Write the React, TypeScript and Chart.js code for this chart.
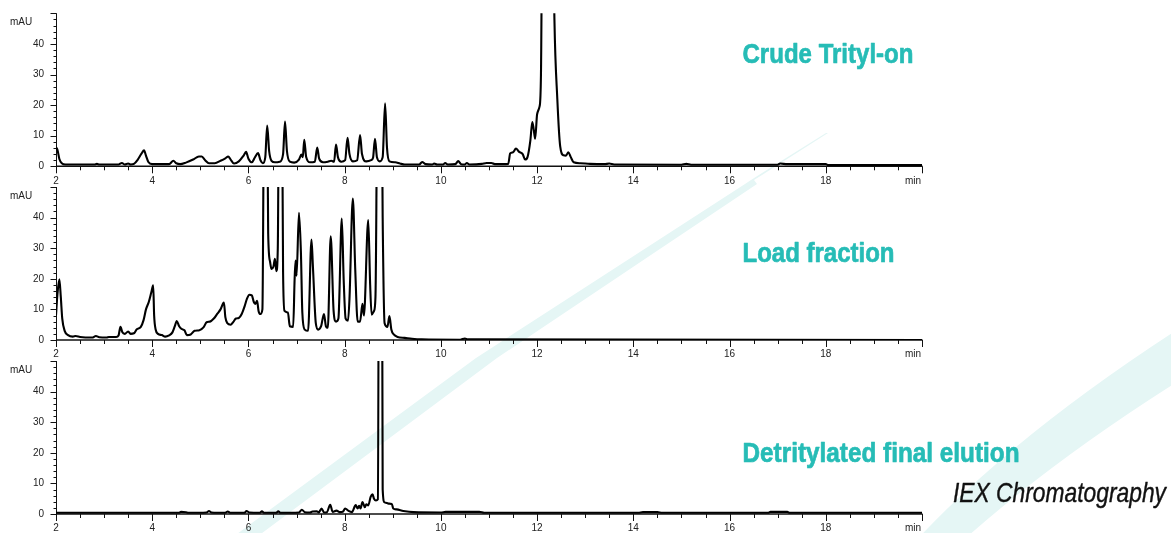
import React, { useEffect, useRef } from 'react';
import { Chart, registerables } from 'chart.js';

Chart.register(...registerables);

// ---------- Data (retention time in min, absorbance in mAU) ----------
const crudeTime = [
  2.0, 2.03, 2.07, 2.12, 2.2, 2.8, 2.85, 2.9, 3.3, 3.37, 3.43, 3.5, 3.55, 3.62, 3.7, 3.78, 3.83, 3.87, 3.92, 4.0,
  4.35, 4.44, 4.5, 4.58, 4.7, 4.85, 4.97, 5.03, 5.1, 5.18, 5.3, 5.42, 5.52, 5.58, 5.63, 5.7, 5.8, 5.9, 5.95, 6.0,
  6.07, 6.13, 6.2, 6.25, 6.3, 6.35, 6.39, 6.43, 6.48, 6.55, 6.65, 6.72, 6.76, 6.8, 6.86, 6.95, 7.05, 7.1, 7.13, 7.16,
  7.2, 7.28, 7.38, 7.43, 7.47, 7.55, 7.65, 7.72, 7.78, 7.82, 7.86, 7.93, 8.01, 8.06, 8.1, 8.17, 8.26, 8.32, 8.36, 8.45,
  8.55, 8.59, 8.63, 8.67, 8.73, 8.79, 8.84, 8.88, 8.93, 9.05, 9.15, 9.25, 9.55, 9.61, 9.68, 9.82, 9.86, 9.92, 10.05, 10.09,
  10.14, 10.3, 10.36, 10.42, 10.5, 10.54, 10.59, 10.85, 10.95, 11.05, 11.12, 11.4, 11.44, 11.5, 11.56, 11.62, 11.7, 11.75, 11.8, 11.86,
  11.9, 11.93, 11.96, 12.0, 12.05, 12.08, 12.2, 12.3, 12.36, 12.42, 12.48, 12.55, 12.6, 12.65, 12.7, 12.76, 12.9, 13.1, 13.4, 13.5,
  13.6, 15.0, 15.1, 15.2, 17.0, 17.05, 17.2, 18.0, 18.05, 20.0,
];
const crudeAbs = [
  6.2, 5.4, 2.4, 1.0, 0.6, 0.6, 0.8, 0.6, 0.6, 1.1, 0.6, 0.9, 0.6, 0.8, 2.2, 4.2, 5.2, 3.5, 1.4, 0.7,
  0.7, 1.8, 1.0, 0.7, 1.2, 2.2, 3.2, 3.2, 2.0, 1.0, 1.0, 1.8, 2.6, 3.2, 2.2, 0.9, 1.6, 3.5, 4.7, 2.5,
  1.3, 2.8, 4.3, 2.0, 1.0, 3.0, 13.3, 5.0, 1.8, 1.3, 1.5, 4.0, 14.6, 5.0, 1.5, 1.2, 2.2, 3.8, 3.0, 8.7,
  3.0, 1.3, 1.5, 6.1, 2.5, 1.3, 1.5, 1.8, 1.5, 7.1, 3.0, 1.5, 2.0, 9.3, 4.0, 1.6, 2.0, 10.2, 4.0, 1.6,
  2.0, 2.8, 9.0, 3.0, 1.6, 3.0, 20.6, 6.0, 1.6, 1.3, 0.9, 0.6, 0.6, 1.4, 0.7, 0.6, 0.9, 0.6, 0.6, 1.1,
  0.6, 0.7, 1.7, 0.7, 0.6, 1.1, 0.6, 0.8, 1.1, 1.1, 0.7, 0.8, 4.2, 4.6, 5.8, 4.8, 4.0, 2.2, 3.0, 8.5,
  14.5, 12.0, 9.0, 17.0, 19.5, 30.0, 420.0, 120.0, 48.0, 22.0, 6.5, 3.6, 3.5, 4.6, 3.0, 1.3, 1.0, 0.8, 0.7, 0.9,
  0.6, 0.5, 0.8, 0.5, 0.5, 0.9, 0.7, 0.7, 0.4, 0.4,
];

const loadTime = [
  2.0, 2.03, 2.07, 2.1, 2.13, 2.18, 2.25, 2.35, 2.41, 2.5, 2.75, 2.83, 2.9, 3.05, 3.1, 3.25, 3.3, 3.34, 3.38, 3.43,
  3.5, 3.55, 3.62, 3.68, 3.76, 3.82, 3.87, 3.93, 3.98, 4.02, 4.04, 4.07, 4.12, 4.2, 4.27, 4.35, 4.42, 4.47, 4.51, 4.56,
  4.61, 4.67, 4.72, 4.8, 4.88, 4.98, 5.07, 5.13, 5.2, 5.28, 5.35, 5.42, 5.49, 5.52, 5.56, 5.63, 5.68, 5.74, 5.8, 5.86,
  5.92, 5.97, 6.02, 6.07, 6.11, 6.14, 6.18, 6.21, 6.25, 6.29, 6.35, 6.41, 6.45, 6.48, 6.52, 6.55, 6.58, 6.61, 6.66, 6.72,
  6.75, 6.82, 6.86, 6.93, 6.96, 6.98, 7.0, 7.05, 7.09, 7.12, 7.17, 7.24, 7.31, 7.34, 7.4, 7.45, 7.51, 7.57, 7.61, 7.65,
  7.71, 7.77, 7.82, 7.87, 7.94, 7.98, 8.02, 8.07, 8.1, 8.17, 8.22, 8.27, 8.32, 8.37, 8.4, 8.49, 8.53, 8.56, 8.61, 8.64,
  8.72, 8.79, 8.83, 8.89, 8.93, 8.97, 9.02, 9.1, 9.25, 9.4, 9.6, 10.4, 10.5, 10.55, 20.0,
];
const loadAbs = [
  8.0, 15.0, 19.8, 14.0, 7.0, 3.0, 1.6, 1.1, 1.3, 1.0, 0.8, 1.3, 0.9, 0.8, 1.0, 1.0, 1.5, 4.3, 2.5, 2.0,
  2.8, 2.0, 2.2, 3.5, 4.2, 6.5, 10.0, 12.5, 15.5, 17.9, 8.0, 3.5, 2.0, 1.6, 1.1, 1.5, 2.5, 4.5, 6.2, 4.5,
  3.6, 3.2, 1.6, 1.8, 3.0, 3.2, 4.2, 5.8, 6.0, 7.0, 8.5, 10.0, 12.2, 7.5, 5.5, 5.0, 5.8, 7.0, 7.2, 8.5,
  11.0, 13.5, 14.8, 14.6, 12.5, 11.8, 12.8, 9.5, 8.5, 10.0, 160.0, 35.0, 25.5, 23.2, 24.0, 26.5, 22.5, 30.0, 170.0, 22.0,
  9.5, 9.0, 4.5, 4.3, 20.0, 26.0, 21.0, 41.6, 29.0, 9.0, 3.4, 3.0, 32.8, 24.0, 5.5, 3.4, 4.5, 8.5, 4.5, 4.0,
  33.9, 9.5, 6.0, 7.0, 39.7, 19.5, 7.0, 6.3, 13.5, 46.2, 23.0, 6.0, 6.0, 11.8, 8.0, 39.2, 18.0, 8.3, 9.5, 14.0,
  180.0, 40.0, 5.5, 4.3, 7.8, 3.4, 1.8, 1.0, 0.7, 0.4, 0.2, 0.1, 0.5, 0.2, 0.0,
];

const finalTime = [
  2.0, 4.55, 4.6, 4.7, 4.75, 5.13, 5.18, 5.23, 5.52, 5.57, 5.62, 5.92, 5.96, 6.02, 6.24, 6.28, 6.32, 6.58, 6.62, 6.66,
  7.05, 7.11, 7.17, 7.28, 7.33, 7.42, 7.46, 7.52, 7.57, 7.63, 7.7, 7.75, 7.83, 7.9, 7.96, 8.01, 8.08, 8.15, 8.23, 8.27,
  8.3, 8.33, 8.37, 8.42, 8.45, 8.49, 8.54, 8.58, 8.61, 8.65, 8.69, 8.74, 8.79, 8.83, 8.88, 8.91, 8.98, 9.01, 9.08, 9.22,
  9.43, 10.0, 10.1, 10.8, 10.9, 14.1, 14.2, 14.5, 14.6, 16.8, 16.85, 17.2, 17.25, 20.0,
];
const finalAbs = [
  0.4, 0.4, 0.7, 0.6, 0.4, 0.5, 1.0, 0.5, 0.4, 0.8, 0.4, 0.4, 1.0, 0.5, 0.4, 0.9, 0.4, 0.4, 0.9, 0.4,
  0.5, 1.4, 0.6, 0.5, 0.8, 0.9, 0.5, 1.8, 0.5, 0.6, 3.0, 0.7, 1.1, 0.6, 0.7, 1.8, 1.0, 0.6, 2.9, 1.8,
  2.7, 1.8, 3.9, 2.2, 3.2, 2.8, 5.6, 6.4, 5.0, 4.4, 4.8, 300.0, 8.0, 3.8, 3.6, 3.4, 3.3, 1.8, 1.5, 1.0,
  0.6, 0.5, 0.7, 0.7, 0.4, 0.4, 0.6, 0.6, 0.4, 0.4, 0.7, 0.7, 0.4, 0.4,
];

// ---------- Axis / labels ----------
const xMin = 2;
const xMax = 20;
const xTickValues = [2, 4, 6, 8, 10, 12, 14, 16, 18, 20];
const xTickLabels = ['2', '4', '6', '8', '10', '12', '14', '16', '18', 'min'];
const xMinorStep = 0.5;
const yMin = 0;
const yMax = 50;
const yTickValues = [0, 10, 20, 30, 40];
const yTickLabels = ['0', '10', '20', '30', '40'];
const yMinorStep = 2;
const yUnit = 'mAU';
const panelTitles = ['Crude Trityl-on', 'Load fraction', 'Detritylated final elution'];
const footerText = 'IEX Chromatography';

const W = 1171;
const H = 533;
const TEAL = 'rgb(38,188,182)';
const TICK_FONT = '10px "Liberation Sans", Arial, Helvetica, sans-serif';

type Panel = {
  time: number[];
  abs: number[];
  title: string;
  titleWidth: number;
  titleBaseline: number;
  top: number;
  bottom: number;
  footer?: boolean;
};

const panels: Panel[] = [
  { time: crudeTime, abs: crudeAbs, title: panelTitles[0], titleWidth: 171, titleBaseline: 62.5, top: 13.3, bottom: 166.3 },
  { time: loadTime, abs: loadAbs, title: panelTitles[1], titleWidth: 152, titleBaseline: 262.3, top: 187, bottom: 340 },
  { time: finalTime, abs: finalAbs, title: panelTitles[2], titleWidth: 277, titleBaseline: 461.7, top: 361, bottom: 514, footer: true },
];

const PLOT_LEFT = 56;
const PLOT_RIGHT = 922;

function fitText(
  ctx: CanvasRenderingContext2D,
  text: string,
  x: number,
  y: number,
  width: number,
  stroke: number
) {
  const w = ctx.measureText(text).width;
  ctx.save();
  ctx.translate(x, y);
  ctx.scale(width / w, 1);
  ctx.fillText(text, 0, 0);
  if (stroke > 0) {
    ctx.lineWidth = stroke;
    ctx.lineJoin = 'round';
    ctx.strokeStyle = ctx.fillStyle as string;
    ctx.strokeText(text, 0, 0);
  }
  ctx.restore();
}

function makeDecor(p: Panel) {
  return {
    id: 'decor',
    beforeDatasetsDraw(chart: any) {
      const ctx: CanvasRenderingContext2D = chart.ctx;
      const { left, right, top, bottom } = chart.chartArea;
      const xs = chart.scales.x;
      const ys = chart.scales.y;
      ctx.save();
      ctx.strokeStyle = '#111';
      // y axis
      ctx.lineWidth = 1;
      const ax = Math.round(left) + 0.5;
      ctx.beginPath();
      ctx.moveTo(ax, top);
      ctx.lineTo(ax, bottom);
      ctx.stroke();
      for (let v = yMin; v <= yMax + 1e-6; v += yMinorStep) {
        const py = Math.round(ys.getPixelForValue(v)) + 0.5;
        const major = Math.abs(v % 10) < 1e-6;
        ctx.beginPath();
        ctx.moveTo(ax - (major ? 6 : 3), py);
        ctx.lineTo(ax, py);
        ctx.stroke();
      }
      // x axis
      ctx.lineWidth = 1.6;
      ctx.beginPath();
      ctx.moveTo(left, bottom);
      ctx.lineTo(right + 0.5, bottom);
      ctx.stroke();
      ctx.lineWidth = 1;
      for (let t = xMin; t <= xMax + 1e-6; t += xMinorStep) {
        const px = Math.round(xs.getPixelForValue(t)) + 0.5;
        const major = Math.abs(t % 2) < 1e-6;
        ctx.beginPath();
        ctx.moveTo(px, bottom);
        ctx.lineTo(px, bottom + (major ? 7 : 4));
        ctx.stroke();
      }
      ctx.restore();
    },
    afterDraw(chart: any) {
      const ctx: CanvasRenderingContext2D = chart.ctx;
      const { left, top, bottom } = chart.chartArea;
      const xs = chart.scales.x;
      const ys = chart.scales.y;
      ctx.save();
      ctx.fillStyle = '#222';
      ctx.font = TICK_FONT;
      ctx.textBaseline = 'middle';
      ctx.textAlign = 'right';
      yTickValues.forEach((v, i) => {
        ctx.fillText(yTickLabels[i], left - 12, ys.getPixelForValue(v));
      });
      ctx.textAlign = 'left';
      ctx.fillText(yUnit, 10, top + 9);
      xTickValues.forEach((t, i) => {
        const px = xs.getPixelForValue(t);
        if (i === xTickValues.length - 1) {
          ctx.textAlign = 'right';
          ctx.fillText(xTickLabels[i], px - 1, bottom + 14.5);
        } else {
          ctx.textAlign = 'center';
          ctx.fillText(xTickLabels[i], px, bottom + 14.5);
        }
      });
      // panel title
      ctx.textAlign = 'left';
      ctx.textBaseline = 'alphabetic';
      ctx.fillStyle = TEAL;
      ctx.font = 'bold 28px "Liberation Sans", Arial, sans-serif';
      fitText(ctx, p.title, 742.5, p.titleBaseline, p.titleWidth, 0.7);
      if (p.footer) {
        ctx.fillStyle = '#111';
        ctx.font = 'italic 27.5px "Liberation Sans", Arial, sans-serif';
        fitText(ctx, footerText, 953, 502.3, 213, 0.4);
      }
      ctx.restore();
    },
  };
}

function PanelChart({ p }: { p: Panel }) {
  const ref = useRef<HTMLCanvasElement | null>(null);
  useEffect(() => {
    if (!ref.current) return;
    const data = p.time.map((t, i) => ({ x: t, y: p.abs[i] }));
    const chart = new Chart(ref.current, {
      type: 'line',
      data: {
        datasets: [
          {
            data,
            borderColor: '#000',
            borderWidth: 2.1,
            pointRadius: 0,
            cubicInterpolationMode: 'monotone',
            fill: false,
          },
        ],
      },
      options: {
        animation: false,
        responsive: false,
        devicePixelRatio: 1,
        events: [],
        layout: {
          padding: { left: PLOT_LEFT, right: W - PLOT_RIGHT, top: p.top, bottom: H - p.bottom },
        },
        scales: {
          x: { type: 'linear', min: xMin, max: xMax, display: false },
          y: { type: 'linear', min: yMin, max: yMax, display: false },
        },
        plugins: {
          legend: { display: false },
          tooltip: { enabled: false },
        },
      },
      plugins: [makeDecor(p)],
    } as any);
    return () => chart.destroy();
  }, [p]);
  return (
    <canvas
      ref={ref}
      width={W}
      height={H}
      style={{ position: 'absolute', left: 0, top: 0, width: W, height: H }}
    />
  );
}

export default function App() {
  return (
    <div
      style={{
        position: 'fixed',
        left: 0,
        top: 0,
        width: W,
        height: H,
        background: '#fff',
        overflow: 'hidden',
      }}
    >
      <svg width={W} height={H} style={{ position: 'absolute', left: 0, top: 0 }}>
        <path
          d="M 222 545 L 476 358 L 745 184 L 751 180 L 826 133 L 828 133 L 754 180 L 757 184 L 497 358 L 246 545 Z"
          fill="rgb(229,246,245)"
        />
        <path
          d="M 912 545 Q 1010 438 1180 328 L 1180 380 Q 1050 462 958 545 Z"
          fill="rgb(229,246,245)"
        />
      </svg>
      {panels.map((p, i) => (
        <PanelChart key={i} p={p} />
      ))}
    </div>
  );
}
